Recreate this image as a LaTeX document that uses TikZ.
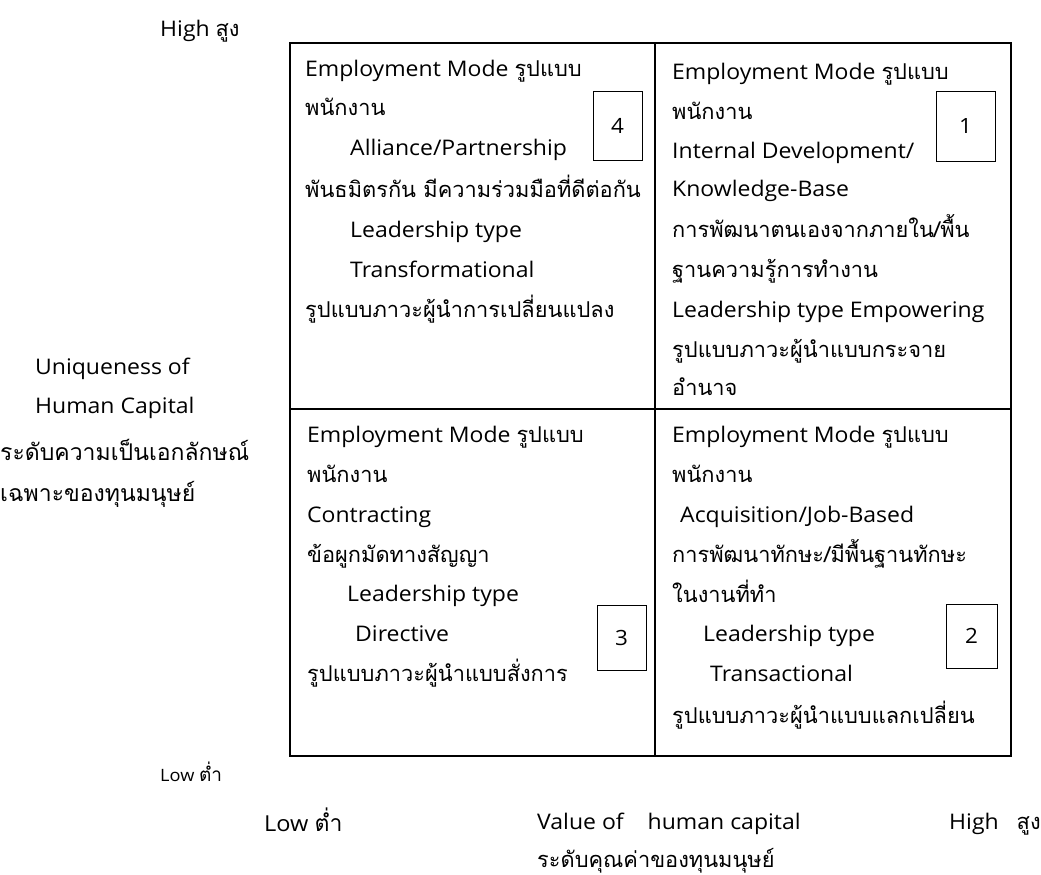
\documentclass[tikz,border=0pt]{standalone}
\usepackage{fontspec}
\setmainfont[FakeStretch=1.07]{Open Sans}
\newfontfamily\thaifam[Script=Thai]{Loma}
\newcommand{\thx}[1]{{\thaifam\fontsize{21.8}{26}\selectfont #1}}
\newcommand{\thy}[1]{{\thaifam\fontsize{23}{26}\selectfont #1}}
\begin{document}
\begin{tikzpicture}[x=1pt,y=-1pt,
  txt/.style={anchor=base west,inner sep=0pt,font=\fontsize{21.5}{24}\selectfont},
  numbox/.style={draw,line width=1pt,inner sep=0pt,font=\fontsize{21}{24}\selectfont},
  frame/.style={draw,line width=1.3pt}]
\useasboundingbox (0,0) rectangle (1041,875);
% grid
\coordinate (TL) at (290,43);
\coordinate (BR) at (1011,756);
\coordinate (MT) at (655,43);
\coordinate (MB) at (655,756);
\coordinate (ML) at (290,409);
\coordinate (MR) at (1011,409);
\draw[frame] (TL) rectangle (BR);
\draw[frame] (MT) -- (MB);
\draw[frame] (ML) -- (MR);
% number boxes
\node[numbox,minimum width=49pt,minimum height=69pt] (n4) at (617.5,125.5) {4};
\node[numbox,minimum width=59pt,minimum height=70pt] (n1) at (965.5,126) {1};
\node[numbox,minimum width=49pt,minimum height=65pt] (n3) at (621.5,637.5) {3};
\node[numbox,minimum width=51pt,minimum height=64pt] (n2) at (971.5,636) {2};
% quadrant 4
\node[txt] (a1) at (305,77) {Employment Mode \thx{รูปแบบ}};
\node[txt] (a2) at (305,115) {\thx{พนักงาน}};
\node[txt] (a3) at (350,155) {Alliance/Partnership};
\node[txt] (a4) at (305,197) {\thx{พันธมิตรกัน มีความร่วมมือที่ดีต่อกัน}};
\node[txt] (a5) at (350,237) {Leadership type};
\node[txt] (a6) at (350,277) {Transformational};
\node[txt] (a7) at (305,317) {\thx{รูปแบบภาวะผู้นำการเปลี่ยนแปลง}};
% quadrant 1
\node[txt] (b1) at (672,79) {Employment Mode \thx{รูปแบบ}};
\node[txt] (b2) at (672,119) {\thx{พนักงาน}};
\node[txt] (b3) at (672,158) {Internal Development/};
\node[txt] (b4) at (672,196) {Knowledge-Base};
\node[txt] (b5) at (672,237) {\thx{การพัฒนาตนเองจากภายใน/พื้น}};
\node[txt] (b6) at (672,277) {\thx{ฐานความรู้การทำงาน}};
\node[txt] (b7) at (672,317) {Leadership type Empowering};
\node[txt] (b8) at (672,357) {\thx{รูปแบบภาวะผู้นำแบบกระจาย}};
\node[txt] (b9) at (672,395) {\thx{อำนาจ}};
% quadrant 3
\node[txt] (c1) at (307,442) {Employment Mode \thx{รูปแบบ}};
\node[txt] (c2) at (307,482) {\thx{พนักงาน}};
\node[txt] (c3) at (307,522) {Contracting};
\node[txt] (c4) at (307,562) {\thx{ข้อผูกมัดทางสัญญา}};
\node[txt] (c5) at (347,601) {Leadership type};
\node[txt] (c6) at (355,641) {Directive};
\node[txt] (c7) at (307,681) {\thx{รูปแบบภาวะผู้นำแบบสั่งการ}};
% quadrant 2
\node[txt] (d1) at (672,442) {Employment Mode \thx{รูปแบบ}};
\node[txt] (d2) at (672,482) {\thx{พนักงาน}};
\node[txt] (d3) at (680,522) {Acquisition/Job-Based};
\node[txt] (d4) at (672,562) {\thx{การพัฒนาทักษะ/มีพื้นฐานทักษะ}};
\node[txt] (d5) at (672,602) {\thx{ในงานที่ทำ}};
\node[txt] (d6) at (703,641) {Leadership type};
\node[txt] (d7) at (710,681) {Transactional};
\node[txt] (d8) at (672,723) {\thx{รูปแบบภาวะผู้นำแบบแลกเปลี่ยน}};
% left axis labels
\node[txt] (yh) at (160,37) {High \thx{สูง}};
\node[txt] (y1) at (35,374) {Uniqueness of};
\node[txt] (y2) at (35,413) {Human Capital};
\node[txt] (y3) at (0,460) {\thy{ระดับความเป็นเอกลักษณ์}};
\node[txt] (y4) at (0,501) {\thy{เฉพาะของทุนมนุษย์}};
\node[txt,font=\fontsize{17}{20}\selectfont] (yl) at (160,781) {Low {\thaifam\fontsize{19}{22}\selectfont ต่ำ}};
% bottom axis labels
\node[txt,font=\fontsize{22}{26}\selectfont] (xl) at (264,831) {Low {\thaifam\fontsize{23}{26}\selectfont ต่ำ}};
\node[txt] (x1) at (537,829) {Value of\hspace{24pt}human capital};
\node[txt] (xh) at (949,829) {High\hspace{18pt}\thx{สูง}};
\node[txt] (x2) at (537,867) {\thx{ระดับคุณค่าของทุนมนุษย์}};
\end{tikzpicture}
\end{document}
